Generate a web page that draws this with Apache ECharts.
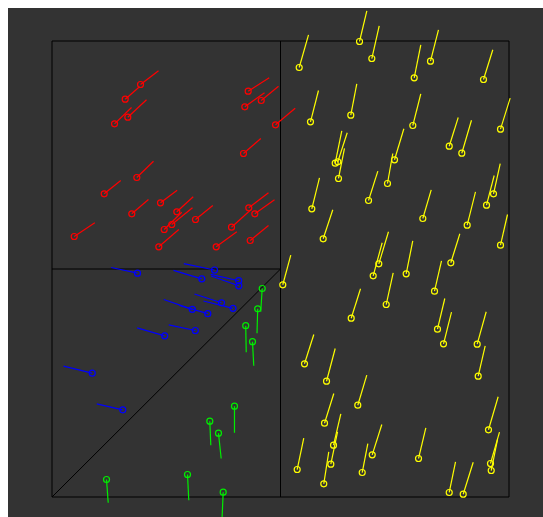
<!DOCTYPE html>
<html>
<head>
<meta charset="utf-8">
<script src="https://cdn.jsdelivr.net/npm/echarts@6/dist/echarts.min.js"></script>
<style>
  html, body { margin: 0; padding: 0; overflow: hidden; background: #333333; }
  #chart { position: absolute; left: 8px; top: 8px; width: 600px; height: 600px; }
  .edge { position: absolute; background: #ffffff; }
  #edgeTop { left: 0; top: 0; width: 100%; height: 8px; }
  #edgeLeft { left: 0; top: 0; width: 8px; height: 100%; }
</style>
</head>
<body>
<div id="chart"></div>
<div id="edgeTop" class="edge"></div>
<div id="edgeLeft" class="edge"></div>
<script>
// Each point: [x, y, dx, dy] in data units; the stick runs from (x, y) to (x+dx, y+dy).
var redPoints = [
  [19.37, 90.46, 3.94, 3.00], [16.02, 87.24, 3.13, 2.72], [13.68, 81.84, 3.72, 3.57],
  [16.59, 83.29, 4.09, 3.82], [42.93, 88.99, 4.60, 2.94], [42.19, 85.57, 4.31, 3.07],
  [45.78, 86.95, 3.79, 3.14], [48.91, 81.62, 4.31, 3.64], [41.90, 75.33, 3.79, 3.29],
  [18.56, 70.07, 3.65, 3.57], [11.42, 66.49, 3.63, 2.92], [23.74, 64.52, 3.65, 2.76],
  [17.46, 62.11, 3.65, 3.14], [27.31, 62.54, 3.59, 3.29], [26.21, 59.76, 4.53, 3.66],
  [24.55, 58.66, 3.85, 3.79], [31.40, 60.86, 3.79, 3.07], [39.28, 59.17, 4.05, 3.66],
  [43.06, 63.42, 4.31, 3.29], [44.38, 62.11, 4.31, 3.07], [23.37, 54.87, 4.38, 3.79],
  [35.93, 54.87, 4.51, 3.29], [43.37, 56.25, 4.00, 3.29], [4.86, 57.13, 4.51, 3.00]
];
var bluePoints = [
  [18.71, 49.08, -5.75, 1.25], [35.56, 49.78, -6.72, 1.38], [32.78, 47.85, -6.19, 1.86],
  [40.85, 47.43, -6.11, 1.40], [40.88, 46.32, -6.08, 2.15], [37.09, 42.59, -5.91, 1.93],
  [39.61, 41.38, -6.46, 1.60], [30.70, 41.16, -6.24, 2.15], [34.09, 40.20, -6.19, 1.80],
  [31.36, 36.51, -5.82, 1.25], [24.66, 35.35, -6.02, 1.75], [8.80, 27.15, -6.28, 1.54],
  [15.49, 19.12, -5.69, 1.32]
];
var greenPoints = [
  [46.00, 45.72, -0.33, -5.09], [45.01, 41.27, -0.15, -5.37], [42.39, 37.57, 0.11, -5.81],
  [43.87, 34.06, 0.28, -5.29], [39.93, 19.91, 0.00, -5.83], [34.53, 16.62, 0.22, -5.26],
  [36.43, 13.99, 0.59, -5.55], [11.93, 3.84, 0.37, -5.11], [29.65, 4.93, 0.28, -5.64],
  [37.46, 1.05, -0.24, -5.55]
];
var yellowPoints = [
  [54.09, 94.19, 2.04, 7.17], [67.29, 99.89, 1.60, 6.73], [69.98, 96.16, 1.62, 7.17],
  [79.26, 91.93, 1.44, 7.24], [82.82, 95.57, 1.75, 6.89], [94.42, 91.56, 2.04, 6.51],
  [56.56, 82.28, 1.75, 6.86], [65.38, 83.73, 1.31, 6.89], [78.95, 81.47, 1.75, 6.95],
  [86.92, 76.93, 1.97, 6.29], [89.67, 75.39, 2.12, 7.24], [98.14, 80.66, 2.12, 6.80],
  [61.97, 73.20, 1.44, 7.11], [62.54, 73.51, 2.06, 6.36], [62.69, 69.85, 1.31, 6.58],
  [74.95, 73.95, 2.04, 6.80], [73.41, 68.75, 1.16, 6.58], [56.85, 63.20, 1.68, 6.80],
  [69.26, 65.02, 2.04, 6.43], [81.14, 61.07, 1.84, 6.29], [90.85, 59.61, 1.82, 7.32],
  [95.08, 63.99, 1.68, 6.51], [96.61, 66.49, 1.47, 6.64], [98.14, 55.22, 1.53, 6.73],
  [59.34, 56.62, 2.10, 6.36], [50.50, 46.54, 1.75, 6.49], [71.51, 51.14, 2.12, 7.02],
  [70.28, 48.51, 1.97, 7.24], [77.50, 48.95, 1.44, 7.24], [87.27, 51.36, 1.97, 6.36],
  [83.70, 45.13, 1.53, 6.67], [73.13, 42.21, 1.53, 6.95], [65.47, 39.21, 2.04, 6.45],
  [84.35, 36.80, 1.60, 6.73], [85.67, 33.60, 1.75, 6.93], [93.04, 33.51, 1.97, 7.11],
  [93.26, 26.49, 1.53, 6.67], [55.25, 29.21, 2.04, 6.43], [60.07, 25.39, 1.90, 7.17],
  [66.91, 20.13, 1.97, 6.58], [59.63, 16.18, 2.04, 6.51], [95.51, 14.74, 2.12, 7.24],
  [61.60, 11.36, 1.60, 6.89], [61.01, 7.19, 1.47, 7.11], [59.47, 2.89, 1.09, 7.02],
  [70.07, 9.25, 2.10, 6.64], [67.88, 5.37, 1.23, 6.36], [53.65, 6.03, 1.44, 6.86],
  [80.20, 8.44, 1.60, 6.73], [86.92, 0.99, 1.38, 6.73], [89.98, 0.61, 2.19, 7.02],
  [95.95, 7.35, 1.97, 6.86], [96.11, 5.81, 1.38, 6.80]
];
// Region boundaries: [x1, y1, x2, y2]
var boundaries = [
  [50, 0, 50, 100],
  [0, 50, 50, 50],
  [0, 0, 50, 50]
];

function stickSeries(name, data, color) {
  return {
    type: 'custom',
    name: name,
    clip: false,
    silent: true,
    data: data,
    renderItem: function (params, api) {
      var x = api.value(0), y = api.value(1);
      var p0 = api.coord([x, y]);
      var p1 = api.coord([x + api.value(2), y + api.value(3)]);
      return {
        type: 'group',
        children: [
          { type: 'line', shape: { x1: p0[0], y1: p0[1], x2: p1[0], y2: p1[1] },
            style: { stroke: color, lineWidth: 1.2 } },
          { type: 'circle', shape: { cx: p0[0], cy: p0[1], r: 3 },
            style: { fill: null, stroke: color, lineWidth: 1.2 } }
        ]
      };
    }
  };
}

var chart = echarts.init(document.getElementById('chart'));
chart.setOption({
  backgroundColor: '#333333',
  animation: false,
  grid: { left: 44, top: 33, width: 457, height: 456, show: true,
          borderColor: '#000000', borderWidth: 1, backgroundColor: 'transparent' },
  xAxis: { type: 'value', min: 0, max: 100, show: false },
  yAxis: { type: 'value', min: 0, max: 100, show: false },
  series: [
    {
      type: 'custom',
      silent: true,
      data: boundaries,
      renderItem: function (params, api) {
        var a = api.coord([api.value(0), api.value(1)]);
        var b = api.coord([api.value(2), api.value(3)]);
        return { type: 'line', shape: { x1: a[0], y1: a[1], x2: b[0], y2: b[1] },
                 style: { stroke: '#000000', lineWidth: 1 } };
      }
    },
    stickSeries('red', redPoints, '#ff0000'),
    stickSeries('blue', bluePoints, '#0000ff'),
    stickSeries('green', greenPoints, '#00ee00'),
    stickSeries('yellow', yellowPoints, '#ffff00')
  ]
});
</script>
</body>
</html>
